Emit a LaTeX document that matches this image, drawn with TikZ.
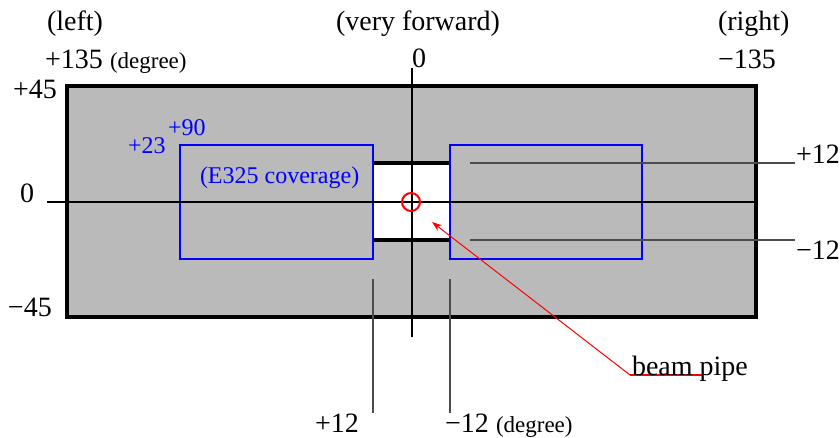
\documentclass[tikz,border=0pt]{standalone}
\usepackage{fontspec}
\setmainfont{Liberation Serif}
\usetikzlibrary{arrows.meta}
\tikzset{
  lbl/.style={anchor=base west, inner sep=0pt, outer sep=0pt, font=\fontsize{28}{31}\selectfont},
  sml/.style={anchor=base west, inner sep=0pt, outer sep=0pt, font=\fontsize{23}{26}\selectfont},
  bluelbl/.style={anchor=base west, inner sep=0pt, outer sep=0pt, text=blue, font=\fontsize{24}{27}\selectfont},
  frame/.style={line width=4.5pt, fill=black!27},
  cover/.style={draw=blue, line width=2.5pt},
  axis/.style={line width=1.2pt, black},
  tick/.style={line width=1.2pt, black!70},
  redline/.style={red, line width=1pt},
}
\begin{document}
\begin{tikzpicture}[x=1pt,y=-1pt]
\useasboundingbox (0,0) rectangle (840,437);
% main frame
\draw[frame] (67,86) rectangle (756,317);
% white gap
\fill[white] (373,163) rectangle (450,240);
\draw[line width=3.5pt] (373,163) -- (450,163);
\draw[line width=3.5pt] (373,240) -- (450,240);
% blue coverage boxes
\draw[cover] (180,145) rectangle (373,259);
\draw[cover] (450,145) rectangle (642,259);
% axes
\coordinate (hl) at (47,202);
\coordinate (hr) at (756,202);
\coordinate (vt) at (412,68);
\coordinate (vb) at (412,337);
\draw[axis] (hl) -- (hr);
\draw[axis] (vt) -- (vb);
% ticks right
\coordinate (tr1a) at (470,163); \coordinate (tr1b) at (795,163);
\coordinate (tr2a) at (470,240); \coordinate (tr2b) at (795,240);
\draw[tick] (tr1a) -- (tr1b);
\draw[tick] (tr2a) -- (tr2b);
% ticks bottom
\coordinate (tb1a) at (373,279); \coordinate (tb1b) at (373,413);
\coordinate (tb2a) at (450,279); \coordinate (tb2b) at (450,413);
\draw[tick] (tb1a) -- (tb1b);
\draw[tick] (tb2a) -- (tb2b);
% beam pipe
\node[draw=red, line width=2pt, circle, minimum size=18pt, inner sep=0pt] (pipe) at (411,202) {};
\coordinate (tip) at (432,222);
\coordinate (knee) at (630,375);
\coordinate (uend) at (702,375);
\draw[redline, -{Stealth[length=10pt,width=7pt]}] (knee) -- (tip);
\draw[redline, line width=1.5pt] (knee) -- (uend);
% labels
\node[lbl] (left) at (47,30) {(left)};
\node[lbl] (p135) at (45,68) {+135};
\node[sml] (deg1) at (110,68) {(degree)};
\node[lbl] (vf) at (336,30) {(very forward)};
\node[lbl] (z0) at (412,67) {0};
\node[lbl] (right) at (718,30) {(right)};
\node[lbl] (m135) at (718,68) {\char"2212 135};
\node[lbl] (p45) at (13,98) {+45};
\node[lbl] (zl) at (20,202) {0};
\node[lbl] (m45) at (8,316) {\char"2212 45};
\node[bluelbl] (p23) at (128,153) {+23};
\node[bluelbl] (p90) at (168,135) {+90};
\node[bluelbl] (e325) at (200,183) {(E325 coverage)};
\node[lbl] (rp12) at (796,163) {+12};
\node[lbl] (rm12) at (796,259) {\char"2212 12};
\node[lbl] (bp12) at (315,432) {+12};
\node[lbl] (bm12) at (445,432) {\char"2212 12};
\node[sml] (deg2) at (496,432) {(degree)};
\node[lbl] (beam) at (632,375) {beam pipe};
\end{tikzpicture}
\end{document}
